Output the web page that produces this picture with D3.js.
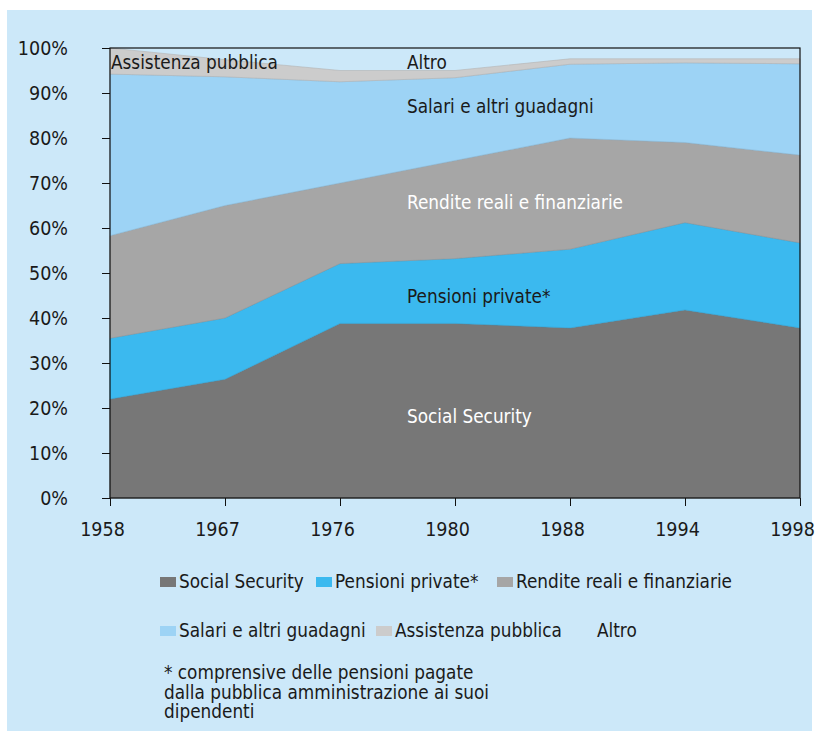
<!DOCTYPE html>
<html>
<head>
<meta charset="utf-8">
<script src="https://cdn.jsdelivr.net/npm/d3@7/dist/d3.min.js"></script>
<style>
  html, body { margin: 0; padding: 0; background: #ffffff; }
  svg { display: block; }
  text { font-family: "DejaVu Sans Condensed", "DejaVu Sans", sans-serif; font-stretch: condensed; }
</style>
</head>
<body>
<svg id="chart" width="819" height="731"></svg>
<script>
// ---- data (percent of income, by source) ----
const years = ["1958", "1967", "1976", "1980", "1988", "1994", "1998"];
const socialSecurity   = [22.0, 26.4, 38.8, 38.8, 37.8, 41.8, 37.8];
const pensioniPrivate  = [13.5, 13.6, 13.3, 14.4, 17.5, 19.4, 18.9];
const rendite          = [22.8, 25.0, 17.9, 21.8, 24.7, 17.8, 19.5];
const salari           = [35.9, 28.6, 22.5, 18.4, 16.4, 17.7, 20.3];
const assistenza       = [5.8, 3.8, 2.5, 1.6, 1.2, 0.9, 1.1];
const altro            = [0.0, 2.6, 5.0, 5.0, 2.4, 2.4, 2.4];
const yTicks = [0, 10, 20, 30, 40, 50, 60, 70, 80, 90, 100];
const seriesNames = ["Social Security", "Pensioni private*", "Rendite reali e finanziarie",
                     "Salari e altri guadagni", "Assistenza pubblica", "Altro"];
const footnote = ["* comprensive delle pensioni pagate",
                  "dalla pubblica amministrazione ai suoi",
                  "dipendenti"];

// ---- styling ----
const bg = "#cce8f9";
const colors = ["#777777", "#3bb9ef", "#a6a6a6", "#9dd3f5", "#cccccc", "none"];
const labelColors = ["#ffffff", "#1a1a1a", "#ffffff", "#1a1a1a", "#1a1a1a", "#1a1a1a"];

const svg = d3.select("#chart");
svg.append("rect").attr("x", 7).attr("y", 10).attr("width", 805).attr("height", 721).attr("fill", bg);

const plot = { left: 110, right: 800, top: 48, bottom: 498 };
const x = d3.scalePoint().domain(years).range([plot.left, plot.right]);
const y = d3.scaleLinear().domain([0, 100]).range([plot.bottom, plot.top]);

const seriesArrays = [socialSecurity, pensioniPrivate, rendite, salari, assistenza, altro];
const table = years.map((yr, i) => {
  const row = { year: yr };
  seriesNames.forEach((n, k) => row[n] = seriesArrays[k][i]);
  return row;
});
const stacked = d3.stack().keys(seriesNames)(table);

const area = d3.area()
  .x(d => x(d.data.year))
  .y0(d => y(d[0]))
  .y1(d => y(d[1]));

svg.append("g").selectAll("path")
  .data(stacked)
  .join("path")
  .attr("d", area)
  .attr("fill", (d, i) => colors[i])
  .attr("stroke", (d, i) => colors[i] === "none" ? "none" : d3.color(colors[i]).darker(0.35))
  .attr("stroke-width", 0.6);

// frame
svg.append("rect")
  .attr("x", plot.left).attr("y", plot.top)
  .attr("width", plot.right - plot.left).attr("height", plot.bottom - plot.top)
  .attr("fill", "none").attr("stroke", "#111").attr("stroke-width", 1.2);

// y axis
const yAxis = svg.append("g").attr("transform", `translate(${plot.left},0)`)
  .call(d3.axisLeft(y).tickValues(yTicks).tickFormat(d => d + "%").tickSize(8).tickPadding(34));
yAxis.select(".domain").remove();
yAxis.selectAll(".tick line").attr("stroke", "#111");
yAxis.selectAll(".tick text").attr("font-size", 19.5).attr("fill", "#1a1a1a")
  .attr("font-family", '"DejaVu Sans Condensed", "DejaVu Sans", sans-serif').attr("dy", "0.32em");

// x axis
const xAxis = svg.append("g").attr("transform", `translate(0,${plot.bottom})`)
  .call(d3.axisBottom(x).tickSize(8).tickPadding(0));
xAxis.select(".domain").remove();
xAxis.selectAll(".tick line").attr("stroke", "#111");
xAxis.selectAll(".tick text").attr("font-size", 19.5).attr("fill", "#1a1a1a")
  .attr("font-family", '"DejaVu Sans Condensed", "DejaVu Sans", sans-serif')
  .attr("y", 38).attr("dy", 0).attr("dx", -8);

// in-chart labels (positioned in data units)
const labelPos = [
  { name: seriesNames[0], year: "1980", v: 16.6 },
  { name: seriesNames[1], year: "1980", v: 43.4 },
  { name: seriesNames[2], year: "1980", v: 64.3 },
  { name: seriesNames[3], year: "1980", v: 85.5 },
  { name: seriesNames[4], year: "1958", v: 95.4 },
  { name: seriesNames[5], year: "1980", v: 95.4 }
];
svg.append("g").selectAll("text")
  .data(labelPos)
  .join("text")
  .attr("x", d => d.year === "1958" ? x(d.year) + 1 : x(d.year) - 48)
  .attr("y", d => y(d.v))
  .attr("font-size", 18.8)
  .attr("fill", d => labelColors[seriesNames.indexOf(d.name)])
  .text(d => d.name);

// legend
const legendItems = [
  { i: 0, x: 160, y: 588 }, { i: 1, x: 316, y: 588 }, { i: 2, x: 497, y: 588 },
  { i: 3, x: 160, y: 637 }, { i: 4, x: 376, y: 637 }, { i: 5, x: 578, y: 637 }
];
const lg = svg.append("g").selectAll("g").data(legendItems).join("g")
  .attr("transform", d => `translate(${d.x},${d.y})`);
lg.append("rect").attr("x", 0).attr("y", -11).attr("width", 16).attr("height", 10)
  .attr("fill", d => colors[d.i]);
lg.append("text").attr("x", 19).attr("y", 0).attr("font-size", 18.8).attr("fill", "#1a1a1a")
  .text(d => seriesNames[d.i]);

// footnote
svg.append("g").selectAll("text").data(footnote).join("text")
  .attr("x", 164).attr("y", (d, i) => 679 + i * 19.5)
  .attr("font-size", 18.8).attr("fill", "#1a1a1a")
  .text(d => d);
</script>
</body>
</html>
